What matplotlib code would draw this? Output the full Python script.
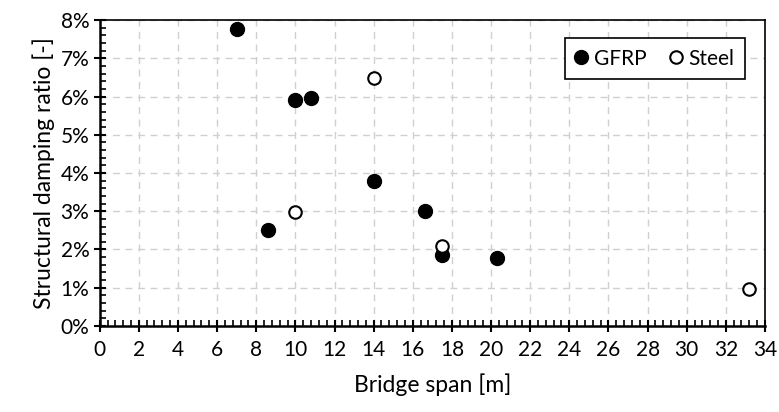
import matplotlib
matplotlib.use("Agg")
import matplotlib.pyplot as plt
from matplotlib.ticker import MultipleLocator, PercentFormatter

plt.rcParams['font.family'] = ['Lato', 'DejaVu Sans']

# GFRP bridges
gfrp_span = [7.0, 10.0, 10.8, 8.6, 14.0, 16.6, 17.5, 20.3]
gfrp_damping = [7.76, 5.90, 5.97, 2.50, 3.78, 3.00, 1.85, 1.78]

# steel bridges
steel_span = [14.0, 10.0, 17.5, 33.2]
steel_damping = [6.50, 2.97, 2.10, 0.96]

fig = plt.figure(figsize=(7.79, 4.12), dpi=100)
ax = fig.add_axes([0.128, 0.209, 0.854, 0.742])

ax.plot(gfrp_span, gfrp_damping, linestyle="none", marker="o", markersize=10,
        color="black", label="GFRP", zorder=3)
ax.plot(steel_span, steel_damping, linestyle="none", marker="o", markersize=9,
        markerfacecolor="white", markeredgecolor="black", markeredgewidth=1.5,
        label="Steel", zorder=3)

ax.set_xlim(0, 34)
ax.set_ylim(0, 8)
ax.xaxis.set_major_locator(MultipleLocator(2))
ax.xaxis.set_minor_locator(MultipleLocator(0.4))
ax.yaxis.set_major_locator(MultipleLocator(1))
ax.yaxis.set_minor_locator(MultipleLocator(0.2))
ax.yaxis.set_major_formatter(PercentFormatter(decimals=0))

ax.tick_params(which="major", direction="inout", length=9, width=1.5, labelsize=15, pad=6)
ax.tick_params(which="minor", direction="in", length=4.5, width=1.2)
ax.tick_params(axis="y", which="major", pad=3)
ax.grid(True, which="major", linestyle=(0, (5, 4)), color="#d0d0d0", linewidth=1)
for side in ["left", "bottom"]:
    ax.spines[side].set_linewidth(1.8)
for side in ["top", "right"]:
    ax.spines[side].set_linewidth(1.2)

ax.set_xlabel("Bridge span [m]", fontsize=16.5, labelpad=9)
ax.set_ylabel("Structural damping ratio [-]", fontsize=16.5, labelpad=4)

leg = ax.legend(loc="upper right", bbox_to_anchor=(0.985, 0.975), ncol=2, fontsize=15,
                handlelength=0.6, handletextpad=0.3, columnspacing=1.1,
                fancybox=False, framealpha=1, edgecolor="black", borderpad=0.5)
leg.get_frame().set_linewidth(1.2)

plt.savefig("out.png", dpi=100)
